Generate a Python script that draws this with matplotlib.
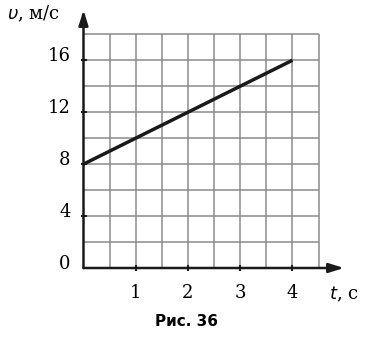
import matplotlib
matplotlib.use('Agg')
import matplotlib.pyplot as plt
import numpy as np

# data: speed vs time
t = [0, 4]
v = [8, 16]

xticks = [1, 2, 3, 4]
yticks = [0, 4, 8, 12, 16]
grid_x = np.arange(0.5, 4.51, 0.5)
grid_y = np.arange(2, 18.1, 2)

fig = plt.figure(figsize=(3.67, 3.39), dpi=100)
ax = fig.add_axes([83.5/367, 71/339, 260.5/367, 258/339])
ax.set_xlim(0, 4.986)
ax.set_ylim(0, 19.87)
for s in ax.spines.values():
    s.set_visible(False)
ax.set_xticks([])
ax.set_yticks([])

# grid
ax.vlines(grid_x, 0, 18, color='#8c8c8c', lw=1.1, zorder=1)
ax.hlines(grid_y, 0, 4.5, color='#8c8c8c', lw=1.1, zorder=1)

# axes with arrows
arrow = dict(arrowstyle='-|>,head_length=0.9,head_width=0.28',
             lw=1.8, color='#1a1a1a', shrinkA=0, shrinkB=0)
ax.annotate('', xy=(4.986, 0), xytext=(0, 0), arrowprops=arrow, annotation_clip=False)
ax.annotate('', xy=(0, 19.87), xytext=(0, 0), arrowprops=arrow, annotation_clip=False)

# tick marks
ax.plot(xticks, [0]*len(xticks), ls='none', marker='|', ms=5, mew=1.5, color='#1a1a1a', clip_on=False)
ax.plot([0]*4, yticks[1:], ls='none', marker='_', ms=5, mew=1.5, color='#1a1a1a', clip_on=False)

# data line
ax.plot(t, v, color='#1a1a1a', lw=2.5, solid_capstyle='butt', zorder=3)

serif = 'DejaVu Serif'
for x in xticks:
    ax.text(x, -1.95, str(x), ha='center', va='center', fontsize=13, family=serif)
for y in yticks:
    ax.text(-0.25, y + 0.3, str(y), ha='right', va='center', fontsize=13, family=serif)

fig.text(7/367, 1 - 14/339, r'$\upsilon$, м/с', ha='left', va='center', fontsize=13, family=serif)
fig.text(329/367, 1 - 294/339, r'$t$, с', ha='left', va='center', fontsize=13, family=serif)
fig.text(186/367, 1 - 322/339, 'Рис. 36', ha='center', va='center', fontsize=11,
         family='DejaVu Sans', weight='bold')

fig.savefig('out.png', dpi=100)
